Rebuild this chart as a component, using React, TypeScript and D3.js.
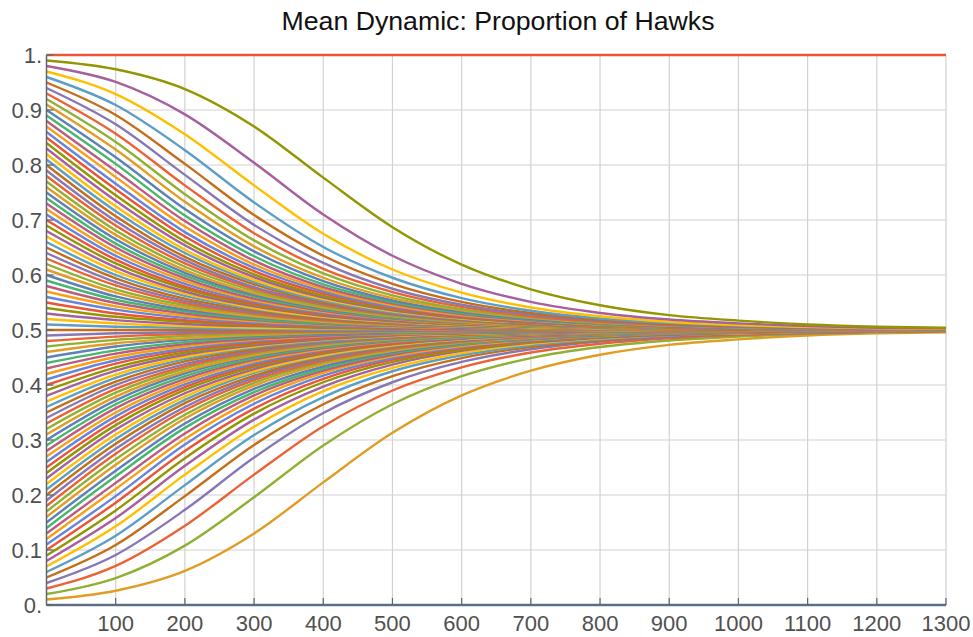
import React, { useEffect, useRef } from 'react';
import * as d3 from 'd3';

// time axis (sample points along each run)
const timeSteps = [0, 100, 200, 300, 400, 500, 600, 700, 800, 900, 1000, 1100, 1200, 1300];
const xTickValues = [100, 200, 300, 400, 500, 600, 700, 800, 900, 1000, 1100, 1200, 1300];
const yTickValues = [0, 0.1, 0.2, 0.3, 0.4, 0.5, 0.6, 0.7, 0.8, 0.9, 1];
const yTickLabels = ['0.', '0.1', '0.2', '0.3', '0.4', '0.5', '0.6', '0.7', '0.8', '0.9', '1.'];

// Mathematica default plot colours (cycle of 15)
const palette = [
  '#5E81B5', '#E19C24', '#8FB032', '#EB6235', '#8778B3',
  '#C56E1A', '#5D9EC7', '#FFBF00', '#A5609D', '#929600',
  '#E95536', '#6685D9', '#F89F13', '#BC5B80', '#47B66D',
];

// proportion of hawks over time, one row per starting proportion
const floorRun = [0, 0, 0, 0, 0, 0, 0, 0, 0, 0, 0, 0, 0, 0];

const lowerRuns = [
  [0.01, 0.026, 0.062, 0.130, 0.223, 0.313, 0.381, 0.426, 0.455, 0.473, 0.483, 0.490, 0.494, 0.496],
  [0.02, 0.049, 0.108, 0.196, 0.290, 0.365, 0.416, 0.449, 0.469, 0.481, 0.488, 0.493, 0.496, 0.497],
  [0.03, 0.071, 0.144, 0.237, 0.325, 0.390, 0.432, 0.459, 0.475, 0.485, 0.491, 0.494, 0.497, 0.498],
  [0.04, 0.091, 0.173, 0.268, 0.349, 0.405, 0.442, 0.465, 0.479, 0.487, 0.492, 0.495, 0.497, 0.498],
  [0.05, 0.109, 0.198, 0.291, 0.365, 0.416, 0.449, 0.469, 0.481, 0.489, 0.493, 0.496, 0.497, 0.498],
  [0.06, 0.126, 0.218, 0.309, 0.378, 0.425, 0.454, 0.472, 0.483, 0.490, 0.494, 0.496, 0.498, 0.499],
  [0.07, 0.143, 0.237, 0.324, 0.389, 0.431, 0.458, 0.475, 0.485, 0.491, 0.494, 0.497, 0.498, 0.499],
  [0.08, 0.158, 0.253, 0.337, 0.397, 0.437, 0.462, 0.477, 0.486, 0.491, 0.495, 0.497, 0.498, 0.499],
  [0.09, 0.172, 0.267, 0.348, 0.405, 0.442, 0.464, 0.478, 0.487, 0.492, 0.495, 0.497, 0.498, 0.499],
  [0.10, 0.186, 0.280, 0.357, 0.411, 0.446, 0.467, 0.480, 0.488, 0.493, 0.496, 0.497, 0.498, 0.499],
  [0.11, 0.198, 0.292, 0.366, 0.417, 0.449, 0.469, 0.481, 0.489, 0.493, 0.496, 0.497, 0.498, 0.499],
  [0.12, 0.211, 0.302, 0.374, 0.422, 0.452, 0.471, 0.482, 0.489, 0.494, 0.496, 0.498, 0.499, 0.499],
  [0.13, 0.222, 0.312, 0.381, 0.426, 0.455, 0.473, 0.483, 0.490, 0.494, 0.496, 0.498, 0.499, 0.499],
  [0.14, 0.234, 0.322, 0.387, 0.430, 0.458, 0.474, 0.484, 0.490, 0.494, 0.497, 0.498, 0.499, 0.499],
  [0.15, 0.244, 0.330, 0.393, 0.434, 0.460, 0.476, 0.485, 0.491, 0.495, 0.497, 0.498, 0.499, 0.499],
  [0.16, 0.255, 0.339, 0.399, 0.438, 0.462, 0.477, 0.486, 0.492, 0.495, 0.497, 0.498, 0.499, 0.499],
  [0.17, 0.265, 0.346, 0.404, 0.441, 0.464, 0.478, 0.487, 0.492, 0.495, 0.497, 0.498, 0.499, 0.499],
  [0.18, 0.275, 0.354, 0.409, 0.444, 0.466, 0.479, 0.487, 0.492, 0.495, 0.497, 0.498, 0.499, 0.499],
  [0.19, 0.284, 0.360, 0.413, 0.447, 0.468, 0.480, 0.488, 0.493, 0.496, 0.497, 0.498, 0.499, 0.499],
  [0.20, 0.293, 0.367, 0.417, 0.450, 0.469, 0.481, 0.489, 0.493, 0.496, 0.497, 0.498, 0.499, 0.499],
  [0.21, 0.302, 0.373, 0.422, 0.452, 0.471, 0.482, 0.489, 0.493, 0.496, 0.498, 0.499, 0.499, 0.499],
  [0.22, 0.310, 0.379, 0.425, 0.454, 0.472, 0.483, 0.490, 0.494, 0.496, 0.498, 0.499, 0.499, 0.499],
  [0.23, 0.319, 0.385, 0.429, 0.457, 0.474, 0.484, 0.490, 0.494, 0.496, 0.498, 0.499, 0.499, 0.500],
  [0.24, 0.327, 0.391, 0.433, 0.459, 0.475, 0.485, 0.491, 0.494, 0.497, 0.498, 0.499, 0.499, 0.500],
  [0.25, 0.335, 0.396, 0.436, 0.461, 0.476, 0.486, 0.491, 0.495, 0.497, 0.498, 0.499, 0.499, 0.500],
  [0.26, 0.343, 0.401, 0.439, 0.463, 0.478, 0.486, 0.492, 0.495, 0.497, 0.498, 0.499, 0.499, 0.500],
  [0.27, 0.350, 0.406, 0.443, 0.465, 0.479, 0.487, 0.492, 0.495, 0.497, 0.498, 0.499, 0.499, 0.500],
  [0.28, 0.358, 0.411, 0.446, 0.467, 0.480, 0.488, 0.493, 0.496, 0.497, 0.498, 0.499, 0.499, 0.500],
  [0.29, 0.365, 0.416, 0.449, 0.469, 0.481, 0.488, 0.493, 0.496, 0.497, 0.498, 0.499, 0.499, 0.500],
  [0.30, 0.372, 0.421, 0.452, 0.471, 0.482, 0.489, 0.493, 0.496, 0.498, 0.499, 0.499, 0.499, 0.500],
  [0.31, 0.379, 0.425, 0.454, 0.472, 0.483, 0.490, 0.494, 0.496, 0.498, 0.499, 0.499, 0.499, 0.500],
  [0.32, 0.386, 0.430, 0.457, 0.474, 0.484, 0.490, 0.494, 0.496, 0.498, 0.499, 0.499, 0.500, 0.500],
  [0.33, 0.393, 0.434, 0.460, 0.476, 0.485, 0.491, 0.495, 0.497, 0.498, 0.499, 0.499, 0.500, 0.500],
  [0.34, 0.400, 0.438, 0.462, 0.477, 0.486, 0.492, 0.495, 0.497, 0.498, 0.499, 0.499, 0.500, 0.500],
  [0.35, 0.406, 0.443, 0.465, 0.479, 0.487, 0.492, 0.495, 0.497, 0.498, 0.499, 0.499, 0.500, 0.500],
  [0.36, 0.413, 0.447, 0.468, 0.480, 0.488, 0.493, 0.496, 0.497, 0.498, 0.499, 0.499, 0.500, 0.500],
  [0.37, 0.419, 0.451, 0.470, 0.482, 0.489, 0.493, 0.496, 0.498, 0.499, 0.499, 0.499, 0.500, 0.500],
  [0.38, 0.426, 0.455, 0.472, 0.483, 0.490, 0.494, 0.496, 0.498, 0.499, 0.499, 0.499, 0.500, 0.500],
  [0.39, 0.432, 0.459, 0.475, 0.485, 0.491, 0.494, 0.497, 0.498, 0.499, 0.499, 0.500, 0.500, 0.500],
  [0.40, 0.439, 0.463, 0.477, 0.486, 0.492, 0.495, 0.497, 0.498, 0.499, 0.499, 0.500, 0.500, 0.500],
  [0.41, 0.445, 0.466, 0.480, 0.488, 0.492, 0.495, 0.497, 0.498, 0.499, 0.499, 0.500, 0.500, 0.500],
  [0.42, 0.451, 0.470, 0.482, 0.489, 0.493, 0.496, 0.498, 0.499, 0.499, 0.499, 0.500, 0.500, 0.500],
  [0.43, 0.457, 0.474, 0.484, 0.490, 0.494, 0.496, 0.498, 0.499, 0.499, 0.500, 0.500, 0.500, 0.500],
  [0.44, 0.463, 0.478, 0.487, 0.492, 0.495, 0.497, 0.498, 0.499, 0.499, 0.500, 0.500, 0.500, 0.500],
  [0.45, 0.470, 0.482, 0.489, 0.493, 0.496, 0.498, 0.498, 0.499, 0.499, 0.500, 0.500, 0.500, 0.500],
  [0.46, 0.476, 0.485, 0.491, 0.495, 0.497, 0.498, 0.499, 0.499, 0.500, 0.500, 0.500, 0.500, 0.500],
  [0.47, 0.482, 0.489, 0.493, 0.496, 0.498, 0.499, 0.499, 0.499, 0.500, 0.500, 0.500, 0.500, 0.500],
  [0.48, 0.488, 0.493, 0.496, 0.497, 0.498, 0.499, 0.499, 0.500, 0.500, 0.500, 0.500, 0.500, 0.500],
  [0.49, 0.494, 0.496, 0.498, 0.499, 0.499, 0.500, 0.500, 0.500, 0.500, 0.500, 0.500, 0.500, 0.500],
];

const halfRun = [0.5, 0.5, 0.5, 0.5, 0.5, 0.5, 0.5, 0.5, 0.5, 0.5, 0.5, 0.5, 0.5, 0.5];

const upperRuns = [
  [0.51, 0.506, 0.504, 0.502, 0.501, 0.501, 0.500, 0.500, 0.500, 0.500, 0.500, 0.500, 0.500, 0.500],
  [0.52, 0.512, 0.507, 0.504, 0.503, 0.502, 0.501, 0.501, 0.500, 0.500, 0.500, 0.500, 0.500, 0.500],
  [0.53, 0.518, 0.511, 0.507, 0.504, 0.502, 0.501, 0.501, 0.501, 0.500, 0.500, 0.500, 0.500, 0.500],
  [0.54, 0.524, 0.515, 0.509, 0.505, 0.503, 0.502, 0.501, 0.501, 0.500, 0.500, 0.500, 0.500, 0.500],
  [0.55, 0.530, 0.518, 0.511, 0.507, 0.504, 0.502, 0.502, 0.501, 0.501, 0.500, 0.500, 0.500, 0.500],
  [0.56, 0.537, 0.522, 0.513, 0.508, 0.505, 0.503, 0.502, 0.501, 0.501, 0.500, 0.500, 0.500, 0.500],
  [0.57, 0.543, 0.526, 0.516, 0.510, 0.506, 0.504, 0.502, 0.501, 0.501, 0.500, 0.500, 0.500, 0.500],
  [0.58, 0.549, 0.530, 0.518, 0.511, 0.507, 0.504, 0.502, 0.501, 0.501, 0.501, 0.500, 0.500, 0.500],
  [0.59, 0.555, 0.534, 0.520, 0.512, 0.508, 0.505, 0.503, 0.502, 0.501, 0.501, 0.500, 0.500, 0.500],
  [0.60, 0.561, 0.537, 0.523, 0.514, 0.508, 0.505, 0.503, 0.502, 0.501, 0.501, 0.500, 0.500, 0.500],
  [0.61, 0.568, 0.541, 0.525, 0.515, 0.509, 0.506, 0.503, 0.502, 0.501, 0.501, 0.500, 0.500, 0.500],
  [0.62, 0.574, 0.545, 0.528, 0.517, 0.510, 0.506, 0.504, 0.502, 0.501, 0.501, 0.501, 0.500, 0.500],
  [0.63, 0.581, 0.549, 0.530, 0.518, 0.511, 0.507, 0.504, 0.502, 0.501, 0.501, 0.501, 0.500, 0.500],
  [0.64, 0.587, 0.553, 0.532, 0.520, 0.512, 0.507, 0.504, 0.503, 0.502, 0.501, 0.501, 0.500, 0.500],
  [0.65, 0.594, 0.557, 0.535, 0.521, 0.513, 0.508, 0.505, 0.503, 0.502, 0.501, 0.501, 0.500, 0.500],
  [0.66, 0.600, 0.562, 0.538, 0.523, 0.514, 0.508, 0.505, 0.503, 0.502, 0.501, 0.501, 0.500, 0.500],
  [0.67, 0.607, 0.566, 0.540, 0.524, 0.515, 0.509, 0.505, 0.503, 0.502, 0.501, 0.501, 0.500, 0.500],
  [0.68, 0.614, 0.570, 0.543, 0.526, 0.516, 0.510, 0.506, 0.504, 0.502, 0.501, 0.501, 0.500, 0.500],
  [0.69, 0.621, 0.575, 0.546, 0.528, 0.517, 0.510, 0.506, 0.504, 0.502, 0.501, 0.501, 0.501, 0.500],
  [0.70, 0.628, 0.579, 0.548, 0.529, 0.518, 0.511, 0.507, 0.504, 0.502, 0.501, 0.501, 0.501, 0.500],
  [0.71, 0.635, 0.584, 0.551, 0.531, 0.519, 0.512, 0.507, 0.504, 0.503, 0.502, 0.501, 0.501, 0.500],
  [0.72, 0.642, 0.589, 0.554, 0.533, 0.520, 0.512, 0.507, 0.504, 0.503, 0.502, 0.501, 0.501, 0.500],
  [0.73, 0.650, 0.594, 0.557, 0.535, 0.521, 0.513, 0.508, 0.505, 0.503, 0.502, 0.501, 0.501, 0.500],
  [0.74, 0.657, 0.599, 0.561, 0.537, 0.522, 0.514, 0.508, 0.505, 0.503, 0.502, 0.501, 0.501, 0.500],
  [0.75, 0.665, 0.604, 0.564, 0.539, 0.524, 0.514, 0.509, 0.505, 0.503, 0.502, 0.501, 0.501, 0.500],
  [0.76, 0.673, 0.609, 0.567, 0.541, 0.525, 0.515, 0.509, 0.506, 0.503, 0.502, 0.501, 0.501, 0.500],
  [0.77, 0.681, 0.615, 0.571, 0.543, 0.526, 0.516, 0.510, 0.506, 0.504, 0.502, 0.501, 0.501, 0.500],
  [0.78, 0.690, 0.621, 0.575, 0.546, 0.528, 0.517, 0.510, 0.506, 0.504, 0.502, 0.501, 0.501, 0.501],
  [0.79, 0.698, 0.627, 0.578, 0.548, 0.529, 0.518, 0.511, 0.507, 0.504, 0.502, 0.501, 0.501, 0.501],
  [0.80, 0.707, 0.633, 0.583, 0.550, 0.531, 0.519, 0.511, 0.507, 0.504, 0.503, 0.502, 0.501, 0.501],
  [0.81, 0.716, 0.640, 0.587, 0.553, 0.532, 0.520, 0.512, 0.507, 0.504, 0.503, 0.502, 0.501, 0.501],
  [0.82, 0.725, 0.646, 0.591, 0.556, 0.534, 0.521, 0.513, 0.508, 0.505, 0.503, 0.502, 0.501, 0.501],
  [0.83, 0.735, 0.654, 0.596, 0.559, 0.536, 0.522, 0.513, 0.508, 0.505, 0.503, 0.502, 0.501, 0.501],
  [0.84, 0.745, 0.661, 0.601, 0.562, 0.538, 0.523, 0.514, 0.508, 0.505, 0.503, 0.502, 0.501, 0.501],
  [0.85, 0.756, 0.670, 0.607, 0.566, 0.540, 0.524, 0.515, 0.509, 0.505, 0.503, 0.502, 0.501, 0.501],
  [0.86, 0.766, 0.678, 0.613, 0.570, 0.542, 0.526, 0.516, 0.510, 0.506, 0.503, 0.502, 0.501, 0.501],
  [0.87, 0.778, 0.688, 0.619, 0.574, 0.545, 0.527, 0.517, 0.510, 0.506, 0.504, 0.502, 0.501, 0.501],
  [0.88, 0.789, 0.698, 0.626, 0.578, 0.548, 0.529, 0.518, 0.511, 0.506, 0.504, 0.502, 0.501, 0.501],
  [0.89, 0.802, 0.708, 0.634, 0.583, 0.551, 0.531, 0.519, 0.511, 0.507, 0.504, 0.503, 0.502, 0.501],
  [0.90, 0.814, 0.720, 0.643, 0.589, 0.554, 0.533, 0.520, 0.512, 0.507, 0.504, 0.503, 0.502, 0.501],
  [0.91, 0.828, 0.733, 0.652, 0.595, 0.558, 0.536, 0.522, 0.513, 0.508, 0.505, 0.503, 0.502, 0.501],
  [0.92, 0.842, 0.747, 0.663, 0.603, 0.563, 0.538, 0.523, 0.514, 0.509, 0.505, 0.503, 0.502, 0.501],
  [0.93, 0.857, 0.763, 0.676, 0.611, 0.569, 0.542, 0.525, 0.515, 0.509, 0.506, 0.503, 0.502, 0.501],
  [0.94, 0.874, 0.782, 0.691, 0.622, 0.575, 0.546, 0.528, 0.517, 0.510, 0.506, 0.504, 0.502, 0.501],
  [0.95, 0.891, 0.802, 0.709, 0.635, 0.584, 0.551, 0.531, 0.519, 0.511, 0.507, 0.504, 0.503, 0.502],
  [0.96, 0.909, 0.827, 0.732, 0.651, 0.595, 0.558, 0.535, 0.521, 0.513, 0.508, 0.505, 0.503, 0.502],
  [0.97, 0.929, 0.856, 0.763, 0.675, 0.610, 0.568, 0.541, 0.525, 0.515, 0.509, 0.506, 0.503, 0.502],
  [0.98, 0.951, 0.892, 0.804, 0.710, 0.635, 0.584, 0.551, 0.531, 0.519, 0.512, 0.507, 0.504, 0.503],
  [0.99, 0.974, 0.938, 0.870, 0.777, 0.687, 0.619, 0.574, 0.545, 0.527, 0.517, 0.510, 0.506, 0.504],
];

const ceilingRun = [1, 1, 1, 1, 1, 1, 1, 1, 1, 1, 1, 1, 1, 1];

const HawkChart = () => {
  const chartRef = useRef<SVGSVGElement | null>(null);

  useEffect(() => {
    const width = 973, height = 637;
    const left = 46.5, right = 946, top = 55, bottom = 605;
    const font = '"Liberation Sans", Arial, sans-serif';

    const svg = d3.select(chartRef.current);
    svg.selectAll('*').remove();
    svg.attr('width', width).attr('height', height);

    const x = d3.scaleLinear().domain([0, 1300]).range([left, right]);
    const y = d3.scaleLinear().domain([0, 1]).range([bottom, top]);

    // grid
    svg.append('g')
      .selectAll('line')
      .data(xTickValues)
      .enter()
      .append('line')
      .attr('x1', d => x(d)).attr('x2', d => x(d))
      .attr('y1', y(0)).attr('y2', y(1))
      .attr('stroke', '#d2d2d2')
      .attr('stroke-width', 1.2);

    svg.append('g')
      .selectAll('line')
      .data(yTickValues.slice(1))
      .enter()
      .append('line')
      .attr('x1', x(0)).attr('x2', x(1300))
      .attr('y1', d => y(d)).attr('y2', d => y(d))
      .attr('stroke', '#d2d2d2')
      .attr('stroke-width', 1.2);

    // runs, drawn in order so later ones sit on top
    const runs = [floorRun, ...lowerRuns, halfRun, ...upperRuns, ceilingRun];
    const line = d3.line<number>()
      .x((_, i) => x(timeSteps[i]))
      .y(d => y(d))
      .curve(d3.curveMonotoneX);

    svg.append('g')
      .selectAll('path')
      .data(runs)
      .enter()
      .append('path')
      .attr('d', d => line(d))
      .attr('fill', 'none')
      .attr('stroke', (_, i) => palette[i % palette.length])
      .attr('stroke-width', 2.4);

    // axes
    const axisColor = '#5f6570';
    svg.append('line')
      .attr('x1', x(0)).attr('x2', x(1300))
      .attr('y1', y(0)).attr('y2', y(0))
      .attr('stroke', axisColor).attr('stroke-width', 1.5);
    svg.append('line')
      .attr('x1', x(0)).attr('x2', x(0))
      .attr('y1', y(0)).attr('y2', y(1))
      .attr('stroke', axisColor).attr('stroke-width', 1.5);

    svg.append('g')
      .selectAll('line')
      .data(xTickValues)
      .enter()
      .append('line')
      .attr('x1', d => x(d)).attr('x2', d => x(d))
      .attr('y1', y(0) - 7).attr('y2', y(0))
      .attr('stroke', axisColor).attr('stroke-width', 1.2);

    svg.append('g')
      .selectAll('line')
      .data(yTickValues)
      .enter()
      .append('line')
      .attr('x1', x(0)).attr('x2', x(0) + 7)
      .attr('y1', d => y(d)).attr('y2', d => y(d))
      .attr('stroke', axisColor).attr('stroke-width', 1.2);

    // tick labels
    svg.append('g')
      .selectAll('text')
      .data(xTickValues)
      .enter()
      .append('text')
      .attr('x', d => x(d))
      .attr('y', 631)
      .attr('text-anchor', 'middle')
      .attr('font-family', font)
      .attr('font-size', 22)
      .attr('fill', '#505050')
      .text(d => String(d));

    svg.append('g')
      .selectAll('text')
      .data(yTickValues)
      .enter()
      .append('text')
      .attr('x', 42)
      .attr('y', d => y(d))
      .attr('dy', '0.36em')
      .attr('text-anchor', 'end')
      .attr('font-family', font)
      .attr('font-size', 22)
      .attr('fill', '#505050')
      .text((_, i) => yTickLabels[i]);

    // title
    svg.append('text')
      .attr('x', 498)
      .attr('y', 30)
      .attr('text-anchor', 'middle')
      .attr('font-family', font)
      .attr('font-size', 25)
      .attr('textLength', 433)
      .attr('lengthAdjust', 'spacingAndGlyphs')
      .attr('fill', '#111')
      .text('Mean Dynamic: Proportion of Hawks');
  }, []);

  return (
    <svg
      ref={chartRef}
      style={{ position: 'absolute', left: 0, top: 0, background: '#fff' }}
    ></svg>
  );
};

export default function App() {
  return <HawkChart />;
}
